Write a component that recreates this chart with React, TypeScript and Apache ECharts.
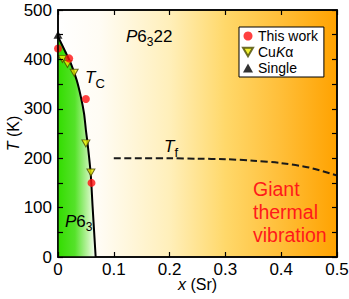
import React, { useEffect, useRef } from 'react';
import * as echarts from 'echarts';

const FONT = '"Liberation Sans", Arial, Helvetica, sans-serif';

// Phase-diagram data (x = Sr content, T in K)
const thisWorkX = [0, 0.02, 0.05, 0.06];
const thisWorkT = [422, 402, 320, 150];
const cuKaX = [0.008, 0.017, 0.029, 0.05, 0.059];
const cuKaT = [401, 391, 373, 230, 171];
const singleX = [0];
const singleT = [450];
const tcX = [0, 0.0125, 0.023, 0.0335, 0.041, 0.0466, 0.05, 0.053, 0.0585, 0.062, 0.0675];
const tcT = [446, 417, 392, 358, 324, 291, 257, 230, 170, 102, 0];
const tfX = [0.1, 0.15, 0.2, 0.25, 0.3, 0.35, 0.4, 0.45, 0.5];
const tfT = [200, 200, 200, 199, 198, 195, 190, 181, 165];
const xLabels = ['0', '0.1', '0.2', '0.3', '0.4', '0.5'];
const yLabels = ['0', '100', '200', '300', '400', '500'];

const pairs = (xs: number[], ys: number[]) => xs.map((x, i) => [x, ys[i]]);

export default function App() {
  const ref = useRef<HTMLDivElement>(null);
  useEffect(() => {
    if (!ref.current) return;
    const chart = echarts.init(ref.current, null, { renderer: 'svg' });
    const axisCommon = {
      type: 'value',
      z: 10,
      splitLine: { show: false },
      axisLine: { show: true, onZero: false, lineStyle: { color: '#000', width: 1.5 } },
      axisTick: { show: true, inside: true, length: 5, lineStyle: { color: '#000', width: 1.2 } },
    };
    const option: any = {
      animation: false,
      backgroundColor: '#fff',
      textStyle: { fontFamily: FONT },
      grid: {
        left: 58, right: 12, top: 10, bottom: 42, show: true,
        containLabel: false, outerBoundsMode: 'none',
        borderColor: '#000', borderWidth: 1.5,
        backgroundColor: {
          type: 'linear', x: 0, y: 0, x2: 1, y2: 0,
          colorStops: [
            { offset: 0, color: '#ffffff' },
            { offset: 0.15, color: '#fffcf4' },
            { offset: 0.4, color: '#ffefba' },
            { offset: 0.6, color: '#ffd86a' },
            { offset: 0.8, color: '#ffbe38' },
            { offset: 1, color: '#ffa200' },
          ],
        },
      },
      xAxis: [
        {
          ...axisCommon, position: 'bottom', min: 0, max: 0.5, interval: 0.1,
          axisLabel: { color: '#000', fontSize: 17, margin: 4, fontFamily: FONT,
            formatter: (v: number) => xLabels[Math.round(v * 10)] },
          name: '{i|x} (Sr)', nameLocation: 'middle', nameGap: 19, nameMoveOverlap: false,
          nameTextStyle: { color: '#000', fontSize: 16, fontFamily: FONT,
            rich: { i: { fontStyle: 'italic', fontSize: 16, color: '#000', fontFamily: FONT } } },
        },
        { ...axisCommon, position: 'top', min: 0, max: 0.5, interval: 0.1, axisLabel: { show: false } },
      ],
      yAxis: [
        {
          ...axisCommon, position: 'left', min: 0, max: 500, interval: 50,
          axisLabel: { color: '#000', fontSize: 17, margin: 6, fontFamily: FONT,
            formatter: (v: number) => (v % 100 === 0 ? yLabels[v / 100] : '') },
          name: '{i|T} (K)', nameLocation: 'middle', nameGap: 37, nameRotate: 90, nameMoveOverlap: false,
          nameTextStyle: { color: '#000', fontSize: 16, fontFamily: FONT,
            rich: { i: { fontStyle: 'italic', fontSize: 16, color: '#000', fontFamily: FONT } } },
        },
        { ...axisCommon, position: 'right', min: 0, max: 500, interval: 50, axisLabel: { show: false } },
      ],
      legend: {
        orient: 'vertical', left: 239, top: 27, padding: [2, 6, 2, 3], itemGap: 2,
        itemWidth: 10, itemHeight: 9, backgroundColor: '#fff', borderColor: '#000', borderWidth: 1,
        borderRadius: 0,
        textStyle: { fontSize: 14, color: '#000', fontFamily: FONT,
          rich: { i: { fontStyle: 'italic', fontSize: 14, color: '#000', fontFamily: FONT } } },
        formatter: (name: string) => (name === 'CuKα' ? 'Cu{i|K}α' : name),
        data: ['This work', 'CuKα', 'Single'],
      },
      series: [
        {
          name: 'Tc', type: 'line', data: pairs(tcX, tcT), symbol: 'none', smooth: 0.3, z: 3,
          lineStyle: { color: '#000', width: 2 },
          areaStyle: {
            opacity: 1,
            color: {
              type: 'linear', x: 0, y: 0, x2: 1, y2: 0,
              colorStops: [
                { offset: 0, color: '#33dd00' },
                { offset: 0.45, color: '#55e22a' },
                { offset: 0.8, color: '#bff3a8' },
                { offset: 1, color: '#fbfff8' },
              ],
            },
          },
        },
        {
          name: 'Tf', type: 'line', data: pairs(tfX, tfT), symbol: 'none', smooth: 0.3, z: 3,
          lineStyle: { color: '#1a1a1a', width: 2, type: [7, 3.5] },
        },
        {
          name: 'This work', type: 'scatter', data: pairs(thisWorkX, thisWorkT), z: 6,
          symbol: 'circle', symbolSize: 8, itemStyle: { color: '#ff1010' },
        },
        {
          name: 'CuKα', type: 'scatter', data: pairs(cuKaX, cuKaT), z: 5,
          symbol: 'path://M0,0L10,0L5,8.5Z', symbolSize: [8, 7],
          itemStyle: { color: '#eeee00', borderColor: '#4a4a00', borderWidth: 1 },
        },
        {
          name: 'Single', type: 'scatter', data: pairs(singleX, singleT), z: 5,
          symbol: 'triangle', symbolSize: [9, 8], itemStyle: { color: '#000' },
        },
      ],
      graphic: [
        {
          type: 'text', x: 126, y: 36, z: 20,
          style: {
            text: '{i|P}{n|6}{s|3}{n|22}', align: 'left', verticalAlign: 'middle', fill: '#000',
            fontFamily: FONT, fontSize: 17,
            rich: {
              i: { fontStyle: 'italic', fontSize: 17, lineHeight: 24, verticalAlign: 'middle', fontFamily: FONT, fill: '#000' },
              n: { fontSize: 17, lineHeight: 24, verticalAlign: 'middle', fontFamily: FONT, fill: '#000' },
              s: { fontSize: 12, lineHeight: 12, verticalAlign: 'bottom', fontFamily: FONT, fill: '#000' },
            },
          },
        },
        {
          type: 'text', x: 85, y: 77, z: 20,
          style: {
            text: '{i|T}{s|C}', align: 'left', verticalAlign: 'middle', fill: '#000',
            fontFamily: FONT, fontSize: 17,
            rich: {
              i: { fontStyle: 'italic', fontSize: 17, lineHeight: 26, verticalAlign: 'middle', fontFamily: FONT, fill: '#000' },
              s: { fontSize: 13, lineHeight: 12, verticalAlign: 'bottom', fontFamily: FONT, fill: '#000' },
            },
          },
        },
        {
          type: 'text', x: 164, y: 146, z: 20,
          style: {
            text: '{i|T}{s|f}', align: 'left', verticalAlign: 'middle', fill: '#000',
            fontFamily: FONT, fontSize: 17,
            rich: {
              i: { fontStyle: 'italic', fontSize: 17, lineHeight: 26, verticalAlign: 'middle', fontFamily: FONT, fill: '#000' },
              s: { fontSize: 13, lineHeight: 12, verticalAlign: 'bottom', fontFamily: FONT, fill: '#000' },
            },
          },
        },
        {
          type: 'text', x: 65, y: 221, z: 20,
          style: {
            text: '{i|P}{n|6}{s|3}', align: 'left', verticalAlign: 'middle', fill: '#000',
            fontFamily: FONT, fontSize: 17,
            rich: {
              i: { fontStyle: 'italic', fontSize: 17, lineHeight: 24, verticalAlign: 'middle', fontFamily: FONT, fill: '#000' },
              n: { fontSize: 17, lineHeight: 24, verticalAlign: 'middle', fontFamily: FONT, fill: '#000' },
              s: { fontSize: 12, lineHeight: 12, verticalAlign: 'bottom', fontFamily: FONT, fill: '#000' },
            },
          },
        },
        {
          type: 'text', x: 253, y: 177, z: 20,
          style: {
            text: 'Giant\nthermal\nvibration', align: 'left', verticalAlign: 'top',
            fill: '#ff1a1a', fontFamily: FONT, fontSize: 19.5, lineHeight: 23,
          },
        },
      ],
    };
    chart.setOption(option);
    return () => chart.dispose();
  }, []);
  return <div ref={ref} style={{ position: 'fixed', left: 0, top: 0, width: 349, height: 299 }} />;
}
